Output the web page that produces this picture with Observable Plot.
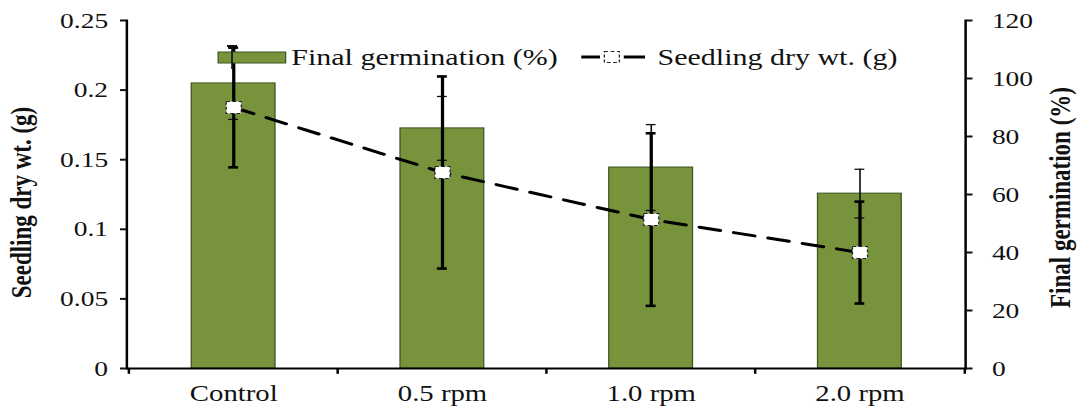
<!DOCTYPE html>
<html><head><meta charset="utf-8">
<script src="https://cdn.jsdelivr.net/npm/d3@7"></script>
<script src="https://cdn.jsdelivr.net/npm/@observablehq/plot@0.6"></script>
<style>
html,body{margin:0;padding:0;background:#fff;}
#wrap{position:relative;width:1085px;height:406px;overflow:hidden;background:#fff;}
#wrap svg{position:absolute;left:0;top:0;}
</style></head><body><div id="wrap"></div>
<script>
// ---- data ----
const categories = ["Control", "0.5 rpm", "1.0 rpm", "2.0 rpm"];
const germination = [98.3, 82.8, 69.3, 60.3];          // Final germination (%)
const germinationErr = [12.4, 11.0, 14.8, 8.4];
const dryWeight = [0.1875, 0.1408, 0.107, 0.0833];      // Seedling dry wt. (g)
const dryWeightErr = [0.043, 0.069, 0.062, 0.0366];
const leftTicks = [0, 0.05, 0.1, 0.15, 0.2, 0.25];
const rightTicks = [0, 20, 40, 60, 80, 100, 120];
const leftTitle = "Seedling dry wt. (g)";
const rightTitle = "Final germination (%)";
const legendLabels = ["Final germination (%)", "Seedling dry wt. (g)"];

// ---- layout ----
const STRETCH = 1.25;               // the reference is horizontally stretched
const OUTW = 1085, OUTH = 406;
const W = OUTW / STRETCH, H = OUTH;
const ratio = 120 / 0.25;           // left axis -> right axis units
const mL = 101, mR = 96, mT = 20, mB = 38;
const step = (W - mL - mR) / categories.length;
const bandW = step * 0.4;
const capW = 8;
const capInset = (bandW - capW) / 2;
const font = "'Liberation Serif', 'Times New Roman', serif";
const green = "#77933c", greenStroke = "#3f5220", ink = "#111";

const rows = categories.map((c, i) => ({
  cat: c, g: germination[i], ge: germinationErr[i],
  w: dryWeight[i] * ratio, we: dryWeightErr[i] * ratio
}));

const chart = Plot.plot({
  width: W, height: H,
  marginLeft: mL, marginRight: mR, marginTop: mT, marginBottom: mB,
  style: {fontFamily: font, fontSize: "22px", color: ink, background: "transparent", overflow: "visible"},
  x: {domain: categories, paddingInner: 0.6, paddingOuter: 0.3, axis: null},
  y: {domain: [0, 120], axis: null},
  marks: [
    Plot.barY(rows, {x: "cat", y: "g", fill: green, stroke: greenStroke, strokeWidth: 1}),
    // germination error bars (thin)
    Plot.ruleX(rows, {x: "cat", y1: d => d.g - d.ge, y2: d => d.g + d.ge, stroke: ink, strokeWidth: 1.3}),
    Plot.tickY(rows, {x: "cat", y: d => d.g + d.ge, stroke: ink, strokeWidth: 1.3, insetLeft: capInset, insetRight: capInset}),
    Plot.tickY(rows, {x: "cat", y: d => d.g - d.ge, stroke: ink, strokeWidth: 1.3, insetLeft: capInset, insetRight: capInset}),
    // seedling dry weight line
    Plot.line(rows, {x: "cat", y: "w", stroke: "#000", strokeWidth: 3, strokeDasharray: "17,11"}),
    Plot.ruleX(rows, {x: "cat", y1: d => d.w - d.we, y2: d => d.w + d.we, stroke: "#000", strokeWidth: 2.6}),
    Plot.tickY(rows, {x: "cat", y: d => d.w + d.we, stroke: "#000", strokeWidth: 2.6, insetLeft: capInset, insetRight: capInset}),
    Plot.tickY(rows, {x: "cat", y: d => d.w - d.we, stroke: "#000", strokeWidth: 2.6, insetLeft: capInset, insetRight: capInset}),
    Plot.dot(rows, {x: "cat", y: "w", symbol: "square", r: 6.8, fill: "#fff", stroke: "#222", strokeWidth: 1, strokeDasharray: "3,2"}),
    // axes
    Plot.ruleY([0], {stroke: "#000", strokeWidth: 2}),
    Plot.frame({anchor: "left", stroke: "#000", strokeWidth: 2}),
    Plot.frame({anchor: "right", stroke: "#000", strokeWidth: 2}),
    Plot.axisY(leftTicks.map(v => v * ratio), {
      anchor: "left", tickSize: 5, tickPadding: 10, strokeWidth: 2, label: null, fontSize: 22,
      tickFormat: d => String(Math.round(d / ratio * 100) / 100)
    }),
    Plot.axisY(rightTicks, {anchor: "right", tickSize: 5, tickPadding: 16, strokeWidth: 2, label: null, fontSize: 22}),
    Plot.axisX(categories, {anchor: "bottom", tickSize: 0, tickPadding: 16, label: null, fontSize: 23}),
    Plot.ruleX(categories, {x: d => d, dx: -step / 2, y1: 0, y2: -2, stroke: "#000", strokeWidth: 2}),
    Plot.ruleX(categories.slice(-1), {x: d => d, dx: step / 2, y1: 0, y2: -2, stroke: "#000", strokeWidth: 2}),
    Plot.text([leftTitle], {frameAnchor: "left", textAnchor: "middle", rotate: -90, dx: -84, dy: 8, fontWeight: "bold", fontSize: 23, fill: ink}),
    Plot.text([rightTitle], {frameAnchor: "right", textAnchor: "middle", rotate: -90, dx: 76, dy: 3, fontWeight: "bold", fontSize: 23, fill: ink})
  ]
});
chart.setAttribute("preserveAspectRatio", "none");
chart.style.width = OUTW + "px";
chart.style.height = OUTH + "px";
chart.style.maxWidth = "none";
document.getElementById("wrap").appendChild(chart);

// ---- legend (same stretched coordinate system) ----
const leg = d3.create("svg")
  .attr("viewBox", `0 0 ${W} ${H}`)
  .attr("preserveAspectRatio", "none")
  .attr("width", OUTW).attr("height", OUTH)
  .style("width", OUTW + "px").style("height", OUTH + "px")
  .style("font-family", font).style("font-size", "24px");
const g1 = leg.append("g");
g1.append("rect").attr("x", 174.5).attr("y", 52).attr("width", 54).attr("height", 11)
  .attr("fill", green).attr("stroke", greenStroke).attr("stroke-width", 1);
g1.append("line").attr("x1", 185.6).attr("x2", 185.6).attr("y1", 46).attr("y2", 69).attr("stroke", ink).attr("stroke-width", 1.3);
g1.append("line").attr("x1", 181.6).attr("x2", 189.6).attr("y1", 46).attr("y2", 46).attr("stroke", ink).attr("stroke-width", 2);
g1.append("text").attr("x", 233).attr("y", 65).attr("fill", ink).text(legendLabels[0]);
const g2 = leg.append("g");
g2.append("line").attr("x1", 465).attr("x2", 480).attr("y1", 57).attr("y2", 57).attr("stroke", "#000").attr("stroke-width", 3);
g2.append("line").attr("x1", 499).attr("x2", 516).attr("y1", 57).attr("y2", 57).attr("stroke", "#000").attr("stroke-width", 3);
g2.append("rect").attr("x", 483.5).attr("y", 51.5).attr("width", 12).attr("height", 11)
  .attr("fill", "#fff").attr("stroke", "#222").attr("stroke-width", 1).attr("stroke-dasharray", "3,2");
g2.append("text").attr("x", 526).attr("y", 65).attr("fill", ink).text(legendLabels[1]);
document.getElementById("wrap").appendChild(leg.node());
</script>
</body></html>
